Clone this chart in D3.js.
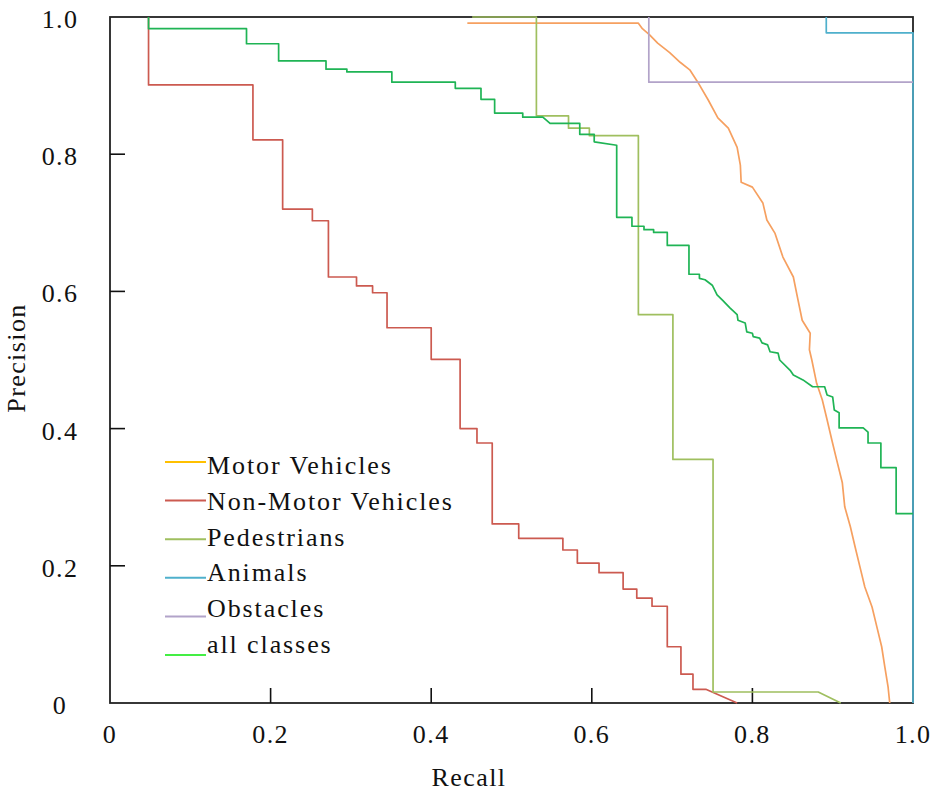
<!DOCTYPE html>
<html>
<head>
<meta charset="utf-8">
<script src="https://cdn.jsdelivr.net/npm/d3@7"></script>
<style>
  body { margin: 0; background: #fff; }
  text { font-family: "Liberation Serif", "Times New Roman", serif; }
</style>
</head>
<body>
<div id="chart"></div>
<script>
(function(){

// class names as shown in the legend
var classNames = ["Motor Vehicles", "Non-Motor Vehicles", "Pedestrians", "Animals", "Obstacles", "all classes"]

// tick labels
var xTicks = [0, 0.2, 0.4, 0.6, 0.8, 1.0]
var yTicks = [0, 0.2, 0.4, 0.6, 0.8, 1.0]

// precision / recall curves
var motorRecall =    [0.445, 0.658, 0.663, 0.672, 0.682, 0.697, 0.710, 0.722, 0.732, 0.745, 0.757, 0.770, 0.781, 0.785, 0.786, 0.800, 0.813, 0.818, 0.828, 0.838, 0.851, 0.856, 0.862, 0.872, 0.871, 0.874, 0.880, 0.887, 0.893, 0.899, 0.905, 0.912, 0.915, 0.922, 0.928, 0.934, 0.940, 0.949, 0.955, 0.961, 0.965, 0.969, 0.971]
var motorPrecision = [0.991, 0.991, 0.983, 0.974, 0.962, 0.948, 0.934, 0.923, 0.905, 0.879, 0.853, 0.838, 0.810, 0.784, 0.759, 0.752, 0.729, 0.704, 0.685, 0.650, 0.621, 0.592, 0.558, 0.539, 0.515, 0.500, 0.466, 0.442, 0.413, 0.383, 0.354, 0.321, 0.286, 0.257, 0.227, 0.198, 0.169, 0.140, 0.111, 0.082, 0.052, 0.023, 0.0]

var nonMotorRecall =    [0.048, 0.048, 0.178, 0.178, 0.215, 0.215, 0.252, 0.252, 0.272, 0.272, 0.307, 0.307, 0.327, 0.327, 0.345, 0.345, 0.400, 0.400, 0.436, 0.436, 0.457, 0.457, 0.476, 0.476, 0.509, 0.509, 0.564, 0.564, 0.582, 0.582, 0.609, 0.609, 0.639, 0.639, 0.656, 0.656, 0.675, 0.675, 0.694, 0.694, 0.711, 0.711, 0.726, 0.726, 0.742, 0.781]
var nonMotorPrecision = [1.0, 0.901, 0.901, 0.821, 0.821, 0.720, 0.720, 0.703, 0.703, 0.621, 0.621, 0.608, 0.608, 0.598, 0.598, 0.547, 0.547, 0.501, 0.501, 0.400, 0.400, 0.379, 0.379, 0.261, 0.261, 0.240, 0.240, 0.223, 0.223, 0.204, 0.204, 0.190, 0.190, 0.166, 0.166, 0.153, 0.153, 0.141, 0.141, 0.082, 0.082, 0.042, 0.042, 0.020, 0.020, 0.0]

var pedRecall =    [0.451, 0.531, 0.531, 0.571, 0.571, 0.597, 0.597, 0.658, 0.658, 0.701, 0.701, 0.751, 0.751, 0.882, 0.910]
var pedPrecision = [1.0, 1.0, 0.856, 0.856, 0.838, 0.838, 0.827, 0.827, 0.566, 0.566, 0.355, 0.355, 0.016, 0.016, 0.0]

var animalRecall =    [0.892, 0.892, 1.0, 1.0]
var animalPrecision = [1.0, 0.977, 0.977, 0.0]

var obstacleRecall =    [0.671, 0.671, 1.0]
var obstaclePrecision = [1.0, 0.905, 0.905]

var allRecall =    [0.048, 0.048, 0.170, 0.170, 0.210, 0.210, 0.269, 0.269, 0.295, 0.295, 0.351, 0.351, 0.430, 0.430, 0.462, 0.462, 0.479, 0.479, 0.514, 0.514, 0.539, 0.548, 0.585, 0.585, 0.603, 0.603, 0.631, 0.631, 0.650, 0.650, 0.665, 0.665, 0.677, 0.677, 0.694, 0.694, 0.721, 0.721, 0.734, 0.734, 0.741, 0.750, 0.756, 0.763, 0.772, 0.781, 0.782, 0.791, 0.793, 0.800, 0.801, 0.809, 0.812, 0.819, 0.822, 0.832, 0.834, 0.847, 0.851, 0.863, 0.875, 0.890, 0.893, 0.900, 0.902, 0.908, 0.908, 0.938, 0.944, 0.944, 0.960, 0.960, 0.979, 0.979, 1.0]
var allPrecision = [1.0, 0.983, 0.983, 0.961, 0.961, 0.936, 0.936, 0.924, 0.924, 0.920, 0.920, 0.905, 0.905, 0.896, 0.896, 0.880, 0.880, 0.860, 0.860, 0.854, 0.854, 0.845, 0.845, 0.829, 0.829, 0.818, 0.813, 0.708, 0.708, 0.695, 0.695, 0.690, 0.690, 0.686, 0.686, 0.667, 0.667, 0.625, 0.625, 0.619, 0.617, 0.609, 0.595, 0.587, 0.576, 0.566, 0.558, 0.554, 0.541, 0.539, 0.534, 0.532, 0.525, 0.522, 0.512, 0.510, 0.500, 0.485, 0.478, 0.471, 0.461, 0.461, 0.449, 0.446, 0.427, 0.423, 0.401, 0.401, 0.395, 0.379, 0.379, 0.343, 0.343, 0.276, 0.276]

var curveColors  = ["#f6a060", "#cc5a50", "#9fbf5f", "#4fb0cc", "#b2a3c9", "#1fb455"]
var legendColors = ["#ffc000", "#cc5a50", "#9fbf5f", "#4fb0cc", "#b2a3c9", "#44ee44"]

var recalls    = [motorRecall, nonMotorRecall, pedRecall, animalRecall, obstacleRecall, allRecall]
var precisions = [motorPrecision, nonMotorPrecision, pedPrecision, animalPrecision, obstaclePrecision, allPrecision]

var series = classNames.map(function(name, i) {
    return {
        name: name,
        color: curveColors[i],
        points: recalls[i].map(function(r, j) { return [r, precisions[i][j]]; })
    }
})

// svg size
var W = 936, H = 792
var margin = {top: 17, right: 23, bottom: 89, left: 110}
var width = W - margin.left - margin.right,
    height = H - margin.top - margin.bottom

var svg = d3.select("#chart")
    .append("svg")
    .attr("width", W)
    .attr("height", H)

var g = svg.append("g")
    .attr("transform", "translate(" + margin.left + "," + margin.top + ")")

var x = d3.scaleLinear().domain([0, 1]).range([0, width])
var y = d3.scaleLinear().domain([0, 1]).range([height, 0])

var fmt = function(d) { return d === 0 ? "0" : d3.format(".1f")(d); }

// frame
g.append("rect")
    .attr("x", 0).attr("y", 0)
    .attr("width", width).attr("height", height)
    .attr("fill", "none")
    .attr("stroke", "#222")
    .attr("stroke-width", 1.8)

// inner ticks (only the interior ones)
g.selectAll(".ytick")
    .data(yTicks.slice(1, -1))
    .enter()
    .append("line")
    .attr("x1", 0).attr("x2", 15)
    .attr("y1", d => y(d)).attr("y2", d => y(d))
    .attr("stroke", "#111").attr("stroke-width", 1.6)

g.selectAll(".xtick")
    .data(xTicks.slice(1, -1))
    .enter()
    .append("line")
    .attr("x1", d => x(d)).attr("x2", d => x(d))
    .attr("y1", height).attr("y2", height - 15)
    .attr("stroke", "#111").attr("stroke-width", 1.6)

// tick labels
g.selectAll(".ylabel")
    .data(yTicks)
    .enter()
    .append("text")
    .attr("x", -50)
    .attr("y", d => y(d) + 11)
    .attr("text-anchor", "middle")
    .attr("font-size", "26px")
    .attr("letter-spacing", "1.4px")
    .attr("fill", "#111")
    .text(fmt)

g.selectAll(".xlabel")
    .data(xTicks)
    .enter()
    .append("text")
    .attr("x", d => x(d))
    .attr("y", height + 40)
    .attr("text-anchor", "middle")
    .attr("font-size", "26px")
    .attr("letter-spacing", "1.4px")
    .attr("fill", "#111")
    .text(fmt)

// axis titles
svg.append("text")
    .attr("x", 469).attr("y", 786)
    .attr("text-anchor", "middle")
    .attr("font-size", "26px")
    .attr("letter-spacing", "1.4px")
    .attr("fill", "#111")
    .text("Recall")

svg.append("text")
    .attr("transform", "translate(25,358) rotate(-90)")
    .attr("text-anchor", "middle")
    .attr("font-size", "26px")
    .attr("letter-spacing", "1.4px")
    .attr("fill", "#111")
    .text("Precision")

// curves
var line = d3.line()
    .x(d => x(d[0]))
    .y(d => y(d[1]))

g.selectAll(".curve")
    .data(series)
    .enter()
    .append("path")
    .attr("class", "curve")
    .attr("d", d => line(d.points))
    .attr("fill", "none")
    .attr("stroke", d => d.color)
    .attr("stroke-width", 1.7)
    .attr("stroke-linejoin", "round")

// legend
var legend = svg.append("g")
legend.selectAll("line")
    .data(classNames)
    .enter()
    .append("line")
    .attr("x1", 165).attr("x2", 206)
    .attr("y1", (d, i) => 462 + i * 38.6)
    .attr("y2", (d, i) => 462 + i * 38.6)
    .attr("stroke", (d, i) => legendColors[i])
    .attr("stroke-width", 2)

legend.selectAll("text")
    .data(classNames)
    .enter()
    .append("text")
    .attr("x", 207)
    .attr("y", (d, i) => 474 + i * 35.8)
    .attr("font-size", "26px")
    .attr("letter-spacing", "1.9px")
    .attr("fill", "#111")
    .text(d => d)

})();
</script>
</body>
</html>
